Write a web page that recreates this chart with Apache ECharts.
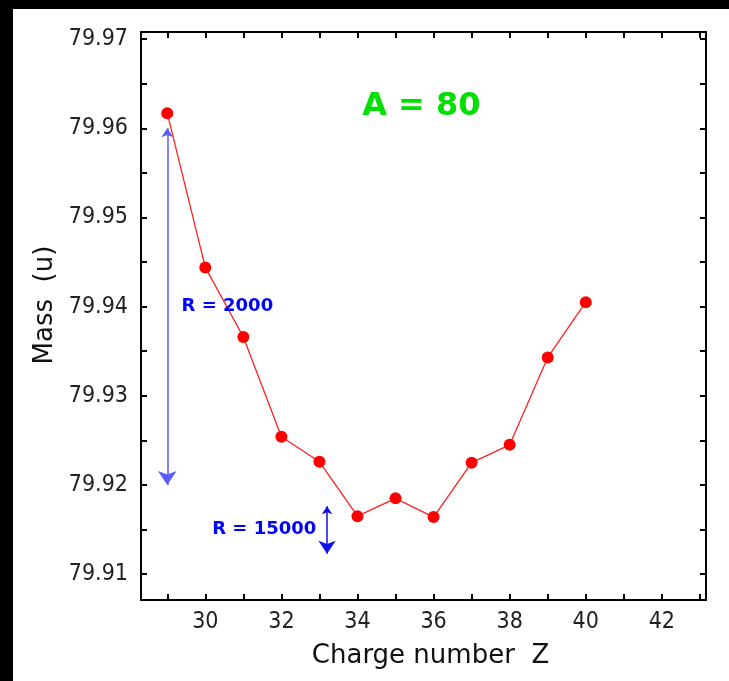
<!DOCTYPE html>
<html lang="en">
<head>
    <meta charset="UTF-8">
    <title>A = 80</title>
    <style>
        body { margin: 0; background: #000; }
        #main { position: absolute; left: 13px; top: 9px; width: 716px; height: 672px; background: #fff; }
    </style>
</head>
<body>
<div id="main"></div>
<script src="https://cdn.jsdelivr.net/npm/echarts@6/dist/echarts.min.js"></script>
<script>
    // charge number Z and mass (u)
    var zValues = [29, 30, 31, 32, 33, 34, 35, 36, 37, 38, 39, 40];
    var massValues = [79.9617, 79.9444, 79.9366, 79.9254, 79.9226, 79.9165, 79.9185, 79.9164, 79.9225, 79.9245, 79.9343, 79.9405];

    var xTicks = [29, 30, 31, 32, 33, 34, 35, 36, 37, 38, 39, 40, 41, 42, 43];
    var xLabels = [30, 32, 34, 36, 38, 40, 42];
    var yTicks = [79.91, 79.915, 79.92, 79.925, 79.93, 79.935, 79.94, 79.945, 79.95, 79.955, 79.96, 79.965, 79.97];
    var yLabels = [79.91, 79.92, 79.93, 79.94, 79.95, 79.96, 79.97];

    // resolution arrows
    var arrowBig = [[29, 79.96], [29, 79.92]];
    var arrowSmall = [[33.2, 79.9176], [33.2, 79.9123]];

    var notes = [
        {text: 'A = 80', pos: [35.68, 79.9624], color: '#00e000', size: 32},
        {text: 'R = 2000', pos: [30.58, 79.94], color: '#0000ff', size: 18},
        {text: 'R = 15000', pos: [31.55, 79.915], color: '#0000ff', size: 18}
    ];

    var tickFont = '"Liberation Sans Narrow", "DejaVu Sans Condensed", sans-serif';
    var nameFont = '"DejaVu Sans", sans-serif';
    var black = '#000';

    function xAx(show) {
        return {
            type: 'value', min: 28.31, max: 43.16,
            position: show ? 'bottom' : 'top',
            name: show ? 'Charge number  Z' : '',
            nameLocation: 'middle', nameGap: 43,
            nameTextStyle: {fontSize: 26, color: '#111', fontFamily: nameFont, padding: [0, 0, 0, 14]},
            splitLine: {show: false},
            axisLine: {show: true, onZero: false, lineStyle: {color: black, width: 2}},
            axisTick: {show: true, inside: true, length: 6, customValues: xTicks, lineStyle: {color: black, width: 2}},
            axisLabel: {show: show, customValues: xLabels, margin: 11, fontSize: 23, color: '#222', fontFamily: tickFont}
        };
    }

    function yAx(show) {
        return {
            type: 'value', min: 79.9071, max: 79.9708,
            position: show ? 'left' : 'right',
            name: show ? 'Mass  (u)' : '',
            nameLocation: 'middle', nameGap: 74,
            nameTextStyle: {fontSize: 26, color: '#111', fontFamily: nameFont, padding: [0, 0, 0, 22]},
            splitLine: {show: false},
            axisLine: {show: true, onZero: false, lineStyle: {color: black, width: 2}},
            axisTick: {show: true, inside: true, length: 6, customValues: yTicks, lineStyle: {color: black, width: 2}},
            axisLabel: {show: show, customValues: yLabels, margin: 13, fontSize: 23, color: '#222', fontFamily: tickFont,
                formatter: function (v) { return v.toFixed(2); }}
        };
    }

    var myChart = echarts.init(document.getElementById('main'));

    var option = {
        animation: false,
        grid: {left: 128, right: 23, top: 23, bottom: 81},
        xAxis: [xAx(true), xAx(false)],
        yAxis: [yAx(true), yAx(false)],
        series: [
            {
                type: 'lines',
                coordinateSystem: 'cartesian2d',
                symbol: ['arrow', 'arrow'],
                symbolSize: [9, 14],
                lineStyle: {color: '#5a5aff', width: 1.5, opacity: 1},
                data: [{coords: arrowBig}],
                z: 3
            },
            {
                type: 'lines',
                coordinateSystem: 'cartesian2d',
                symbol: ['arrow', 'arrow'],
                symbolSize: [8, 13],
                lineStyle: {color: '#1010ee', width: 1.5, opacity: 1},
                data: [{coords: arrowSmall}],
                z: 3
            },
            {
                type: 'line',
                data: zValues.map(function (z, i) { return [z, massValues[i]]; }),
                symbol: 'circle',
                symbolSize: 12,
                lineStyle: {color: '#ff2020', width: 1.3},
                itemStyle: {color: '#ff0000'},
                z: 4
            },
            {
                type: 'scatter',
                symbolSize: 1,
                itemStyle: {color: 'rgba(0,0,0,0)'},
                emphasis: {disabled: true},
                data: notes.map(function (n) {
                    return {
                        value: n.pos,
                        label: {
                            show: true, position: 'inside', formatter: n.text,
                            color: n.color, fontSize: n.size, fontWeight: 'bold',
                            textBorderWidth: 0, opacity: 1,
                            fontFamily: '"DejaVu Sans", sans-serif'
                        }
                    };
                }),
                z: 5
            }
        ]
    };

    myChart.setOption(option);
</script>
</body>
</html>
